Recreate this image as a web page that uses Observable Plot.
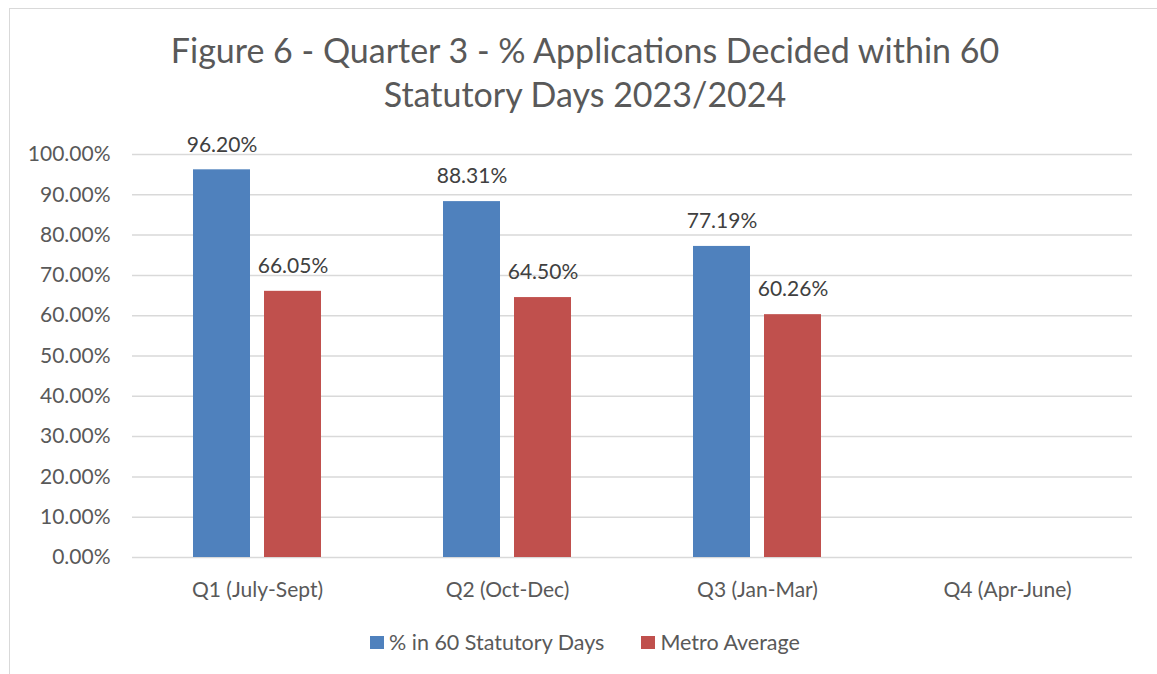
<!DOCTYPE html>
<html>
<head>
<meta charset="utf-8">
<script src="https://cdn.jsdelivr.net/npm/d3@7"></script>
<script src="https://cdn.jsdelivr.net/npm/@observablehq/plot@0.6"></script>
<style>
  html, body { margin: 0; padding: 0; background: #fff; overflow: hidden; }
  #wrap { position: relative; width: 1157px; height: 674px; overflow: hidden; font-family: Lato, "Open Sans", sans-serif; color: #595959; }
  #border { position: absolute; left: 9px; top: 8px; width: 1300px; height: 800px; border: 1px solid #d9d9d9; box-sizing: border-box; }
  #chart { position: absolute; left: 0; top: 0; }
  #title { position: absolute; left: 0; top: 28px; width: 1170px; text-align: center; font-size: 34px; line-height: 44px; color: #595959; }
  #legend { position: absolute; left: 370px; top: 629px; display: flex; align-items: center; font-size: 21.5px; line-height: 26px; color: #595959; }
  .sw { display: inline-block; width: 14px; height: 13px; margin-right: 5px; }
  .item { display: flex; align-items: center; margin-right: 37px; }
</style>
</head>
<body>
<div id="wrap">
  <div id="border"></div>
  <div id="chart"></div>
  <div id="title">Figure 6 - Quarter 3 - % Applications Decided within 60<br>Statutory Days 2023/2024</div>
  <div id="legend"></div>
</div>
<script>
const quarters = ["Q1 (July-Sept)", "Q2 (Oct-Dec)", "Q3 (Jan-Mar)", "Q4 (Apr-June)"];
const series = ["% in 60 Statutory Days", "Metro Average"];
const statutoryValues = [96.20, 88.31, 77.19, null];
const metroValues = [66.05, 64.50, 60.26, null];
const yTicks = [0, 10, 20, 30, 40, 50, 60, 70, 80, 90, 100];
const colors = ["#4F81BD", "#C0504D"];

const data = [];
statutoryValues.forEach((v, i) => data.push({quarter: quarters[i], series: series[0], value: v}));
metroValues.forEach((v, i) => data.push({quarter: quarters[i], series: series[1], value: v}));

const fmt = d => d.toFixed(2) + "%";

const chart = Plot.plot({
  width: 1157,
  height: 600,
  marginTop: 154,
  marginBottom: 43,
  marginLeft: 132,
  marginRight: 25,
  style: {background: "transparent", fontFamily: "Lato, 'Open Sans', sans-serif", fontSize: "21px", color: "#595959", overflow: "visible"},
  fx: {domain: quarters, padding: 0, label: null, axis: null},
  x: {domain: series, paddingInner: 0.197, paddingOuter: 0.859, axis: null},
  y: {domain: [0, 100], axis: null},
  color: {domain: series, range: colors},
  marks: [
    Plot.gridY(yTicks, {stroke: "#d9d9d9", strokeOpacity: 1, strokeWidth: 1.5}),
    Plot.axisY(yTicks, {tickSize: 0, tickPadding: 22, tickFormat: fmt, label: null, fill: "#595959"}),
    Plot.axisFx({anchor: "bottom", tickSize: 0, tickPadding: 25, label: null, fill: "#595959"}),
    Plot.barY(data, {fx: "quarter", x: "series", y: "value", fill: "series", inset: 0}),
    Plot.text(data, {fx: "quarter", x: "series", y: "value", text: d => d.value == null ? null : fmt(d.value), dy: -25, fill: "#404040"})
  ]
});
document.getElementById("chart").appendChild(chart);

const legend = document.getElementById("legend");
series.forEach((s, i) => {
  const item = document.createElement("div");
  item.className = "item";
  const sw = document.createElement("span");
  sw.className = "sw";
  sw.style.background = colors[i];
  item.appendChild(sw);
  item.appendChild(document.createTextNode(s));
  legend.appendChild(item);
});
</script>
</body>
</html>
